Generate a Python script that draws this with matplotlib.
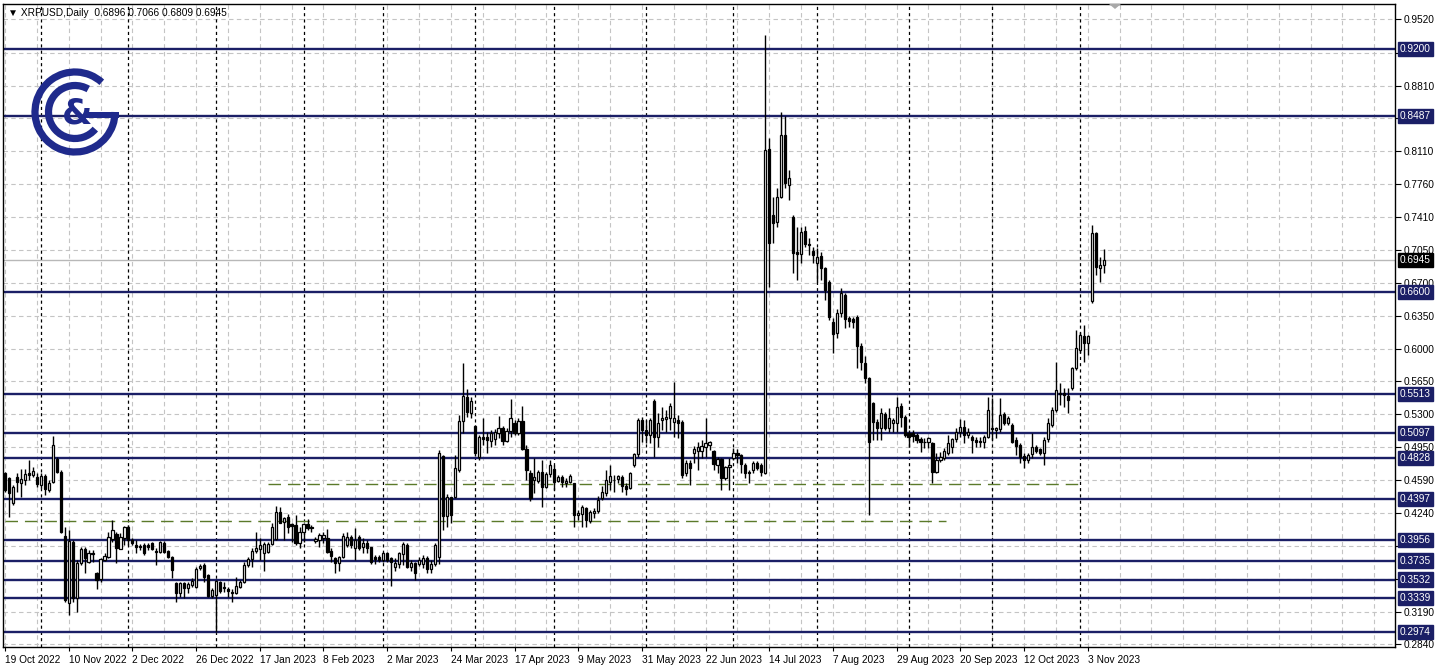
import matplotlib
matplotlib.use('Agg')
import matplotlib.pyplot as plt
from matplotlib.patches import Arc, Rectangle, Polygon
from matplotlib.transforms import blended_transform_factory
import numpy as np
import pandas as pd

plt.rcParams['font.family'] = ['Liberation Sans', 'DejaVu Sans']

# ---------------- data (XRPUSD daily, weekday bars from 19 Oct 2022) ----------------
opens = [
 .4667,.4614,.4347,.4632,.4568,.4596,.4674,.4649,.4632,.4543,.4639,.4489,.4571,.4817,.4685,.3998,.3286,.3937,.3332,.3706,
 .3856,.3724,.3820,.3599,.3535,.3742,.3777,.3969,.4019,.3863,.3973,.4098,.3955,.3898,.3891,.3898,.3902,.3927,.3841,.3831,
 .3927,.3834,.3777,.3500,.3386,.3500,.3439,.3475,.3450,.3653,.3688,.3581,.3361,.3368,.3510,.3457,.3428,.3403,.3386,.3457,
 .3510,.3688,.3748,.3841,.3855,.3819,.3830,.3908,.3962,.4257,.4151,.4197,.4126,.4115,.3919,.4044,.4126,.4090,.3948,.3955,
 .3973,.3973,.3841,.3759,.3706,.3777,.3901,.3990,.3866,.3990,.3877,.3919,.3877,.3777,.3770,.3741,.3812,.3759,.3670,.3698,
 .3805,.3901,.3663,.3706,.3698,.3700,.3760,.3640,.3700,.3770,.4852,.4211,.4411,.4418,.4702,.5229,.5486,.5315,.5172,.4845,
 .5051,.5051,.5016,.5030,.5094,.5147,.5016,.5122,.5208,.5101,.5226,.4923,.4674,.4596,.4588,.4685,.4517,.4660,.4710,.4588,
 .4631,.4560,.4578,.4560,.4222,.4233,.4293,.4161,.4240,.4268,.4401,.4455,.4579,.4590,.4604,.4625,.4533,.4508,.4757,.4875,
 .5231,.5131,.5078,.5434,.5053,.5231,.5245,.5256,.5220,.5238,.5220,.4668,.4782,.4882,.4910,.4910,.4953,.4971,.4900,.4757,
 .4818,.4615,.4732,.4828,.4882,.4864,.4757,.4686,.4697,.4775,.4757,.4668,.8129,.7427,.7356,.7623,.8278,.7748,.7409,.7035,
 .7010,.7260,.7117,.7046,.6918,.6989,.6857,.6715,.6288,.6170,.6377,.6572,.6323,.6312,.6341,.6028,.5850,.5682,.5415,.5220,
 .5148,.5302,.5148,.5202,.5209,.5387,.5273,.5102,.5095,.5077,.5031,.5006,.5006,.4988,.4686,.4810,.4828,.4888,.4953,.5031,
 .5113,.5159,.5077,.5059,.5024,.5017,.5006,.5059,.5148,.5131,.5138,.5302,.5209,.5184,.5024,.4970,.4853,.4810,.4874,.4946,
 .4924,.4881,.5031,.5184,.5344,.5529,.5522,.5493,.5575,.5789,.5985,.6134,.6056,.6511,.7238,.6857,.6896]
highs = [
 .4685,.4632,.4543,.4667,.4710,.4710,.4810,.4738,.4674,.4667,.4660,.4596,.5066,.4845,.4703,.4098,.4062,.3955,.3742,.3884,
 .3884,.3848,.3848,.3617,.3759,.3813,.4044,.4169,.4044,.4026,.4105,.4112,.3973,.3955,.3912,.3920,.3920,.3934,.3866,.3945,
 .3948,.3848,.3784,.3510,.3510,.3510,.3510,.3546,.3670,.3699,.3706,.3592,.3439,.3528,.3521,.3510,.3457,.3428,.3564,.3528,
 .3724,.3777,.3866,.4044,.3972,.3937,.3930,.4133,.4318,.4311,.4204,.4233,.4140,.4222,.4097,.4140,.4176,.4115,.3990,.4026,
 .4044,.4069,.3866,.3777,.3784,.4026,.4044,.4008,.4079,.4008,.3972,.3955,.3884,.3795,.3790,.3830,.3830,.3777,.3759,.3830,
 .3937,.3919,.3741,.3723,.3770,.3790,.3780,.3740,.3920,.4916,.4863,.4446,.4418,.4863,.5290,.5842,.5564,.5486,.5183,.5076,
 .5254,.5112,.5130,.5137,.5279,.5172,.5147,.5457,.5236,.5254,.5386,.4969,.4702,.4827,.4702,.4809,.4685,.4809,.4756,.4649,
 .4649,.4613,.4660,.4567,.4275,.4329,.4311,.4275,.4293,.4420,.4526,.4704,.4757,.4650,.4650,.4650,.4561,.4686,.4889,.5256,
 .5273,.5238,.5256,.5459,.5309,.5380,.5345,.5416,.5647,.5291,.5238,.4811,.4811,.4960,.5006,.5024,.5256,.5017,.4917,.4846,
 .4828,.4747,.4828,.4935,.4925,.4875,.4775,.4704,.4793,.4793,.4775,.9350,.8246,.7623,.7712,.8531,.8485,.7908,.7427,.7302,
 .7302,.7309,.7178,.7089,.7071,.7035,.6875,.6733,.6323,.6419,.6644,.6590,.6348,.6341,.6359,.6056,.5921,.5700,.5433,.5245,
 .5362,.5326,.5362,.5255,.5487,.5415,.5291,.5131,.5131,.5095,.5059,.5042,.5059,.5006,.4881,.4899,.4935,.5077,.5042,.5148,
 .5245,.5237,.5148,.5077,.5059,.5052,.5077,.5487,.5469,.5166,.5469,.5326,.5280,.5202,.5059,.4988,.4881,.4881,.5095,.4970,
 .4935,.5059,.5255,.5380,.5860,.5629,.5575,.5575,.5807,.6198,.6180,.6252,.6145,.7320,.7248,.6974,.7066]
lows = [
 .4471,.4204,.4329,.4471,.4418,.4543,.4596,.4632,.4525,.4507,.4436,.4471,.4560,.4667,.4026,.3297,.3154,.3297,.3190,.3688,
 .3599,.3706,.3724,.3428,.3510,.3734,.3759,.3937,.3706,.3856,.3902,.3902,.3902,.3820,.3848,.3795,.3848,.3848,.3688,.3813,
 .3813,.3759,.3546,.3297,.3350,.3332,.3386,.3457,.3439,.3635,.3510,.3343,.3332,.2966,.3386,.3403,.3350,.3297,.3379,.3439,
 .3500,.3670,.3670,.3812,.3741,.3627,.3820,.3901,.3955,.4133,.3955,.4033,.3937,.3901,.3866,.3937,.4062,.4044,.3919,.3884,
 .3919,.3812,.3723,.3599,.3627,.3759,.3884,.3866,.3741,.3848,.3812,.3812,.3699,.3699,.3715,.3723,.3723,.3464,.3620,.3652,
 .3688,.3652,.3627,.3528,.3680,.3650,.3600,.3600,.3680,.3700,.4062,.4097,.4133,.4400,.4685,.5094,.5272,.5254,.4852,.4809,
 .4969,.4888,.4952,.4969,.5041,.4969,.5005,.5051,.5076,.5076,.4916,.4596,.4375,.4453,.4560,.4311,.4507,.4631,.4489,.4578,
 .4524,.4524,.4560,.4097,.4168,.4097,.4097,.4140,.4186,.4240,.4383,.4419,.4490,.4472,.4561,.4472,.4437,.4497,.4739,.4846,
 .5006,.4989,.4989,.4846,.4953,.5131,.5113,.5131,.5060,.5042,.4615,.4633,.4544,.4775,.4704,.4828,.4846,.4917,.4704,.4668,
 .4490,.4597,.4490,.4811,.4775,.4668,.4615,.4561,.4668,.4704,.4633,.4660,.6662,.7125,.7303,.7605,.7712,.7587,.6804,.6733,
 .6911,.7089,.7000,.6911,.6715,.6733,.6519,.6305,.5949,.6110,.6341,.6216,.6234,.6216,.5789,.5771,.5629,.4223,.5024,.5024,
 .5024,.5131,.5113,.5113,.5113,.5166,.5059,.4953,.5006,.4988,.4899,.4935,.4935,.4568,.4668,.4792,.4810,.4863,.4881,.5006,
 .5059,.4988,.5042,.4888,.4953,.4953,.4935,.5042,.5024,.5042,.5113,.5184,.5184,.4988,.4864,.4775,.4721,.4775,.4828,.4881,
 .4864,.4757,.5006,.5166,.5326,.5397,.5379,.5315,.5557,.5771,.5949,.5860,.5931,.6483,.6786,.6714,.6809]
closes = [
 .4489,.4454,.4518,.4571,.4603,.4657,.4649,.4696,.4553,.4639,.4496,.4568,.4970,.4685,.4037,.3314,.3948,.3332,.3713,.3856,
 .3759,.3813,.3806,.3528,.3749,.3784,.3984,.4062,.3866,.3984,.4090,.3955,.3920,.3877,.3877,.3813,.3884,.3863,.3827,.3934,
 .3831,.3777,.3635,.3393,.3492,.3439,.3485,.3521,.3642,.3678,.3564,.3361,.3421,.3521,.3414,.3439,.3414,.3386,.3464,.3510,
 .3688,.3748,.3841,.3866,.3901,.3908,.3908,.4097,.4257,.4140,.4186,.4097,.4108,.3919,.4044,.4126,.4079,.4079,.3962,.4008,
 .4008,.3830,.3784,.3706,.3777,.3997,.3990,.3901,.3955,.3866,.3919,.3866,.3723,.3748,.3741,.3812,.3741,.3723,.3706,.3812,
 .3912,.3670,.3706,.3599,.3741,.3760,.3640,.3700,.3900,.4880,.4211,.4418,.4222,.4720,.5229,.5493,.5325,.5443,.4880,.5051,
 .5030,.5023,.5094,.5112,.5147,.5016,.5122,.5254,.5094,.5226,.4923,.4702,.4400,.4631,.4685,.4524,.4660,.4756,.4578,.4624,
 .4578,.4588,.4638,.4222,.4240,.4304,.4168,.4258,.4268,.4380,.4462,.4597,.4640,.4597,.4633,.4526,.4504,.4675,.4875,.5231,
 .5131,.5078,.5238,.5060,.5209,.5256,.5273,.5387,.5256,.5202,.4650,.4782,.4722,.4925,.4953,.4960,.4989,.4996,.4764,.4818,
 .4615,.4729,.4757,.4882,.4864,.4768,.4675,.4668,.4775,.4722,.4686,.8121,.7125,.7345,.7623,.8278,.7765,.7819,.7018,.7010,
 .7249,.7117,.7110,.7000,.6982,.6857,.6626,.6334,.6156,.6377,.6590,.6313,.6298,.6288,.6028,.5860,.5682,.5006,.5220,.5148,
 .5309,.5148,.5255,.5238,.5380,.5266,.5077,.5059,.5066,.5024,.5006,.4996,.5042,.4686,.4810,.4846,.4910,.4995,.5031,.5113,
 .5166,.5077,.5113,.5024,.4996,.4996,.5059,.5344,.5138,.5148,.5291,.5209,.5255,.5006,.4960,.4846,.4810,.4864,.4946,.4910,
 .4881,.5024,.5209,.5344,.5558,.5515,.5504,.5451,.5789,.6002,.6145,.6063,.6134,.7231,.6875,.6892,.6945]

start_date = '2022-10-19'
date_labels = ['19 Oct 2022', '10 Nov 2022', '2 Dec 2022', '26 Dec 2022', '17 Jan 2023', '8 Feb 2023',
               '2 Mar 2023', '24 Mar 2023', '17 Apr 2023', '9 May 2023', '31 May 2023', '22 Jun 2023',
               '14 Jul 2023', '7 Aug 2023', '29 Aug 2023', '20 Sep 2023', '12 Oct 2023', '3 Nov 2023']
label_step = 16

price_ticks = [0.9520, 0.9160, 0.8810, 0.8460, 0.8110, 0.7760, 0.7410, 0.7050, 0.6700, 0.6350,
               0.6000, 0.5650, 0.5300, 0.4950, 0.4590, 0.4240, 0.3890, 0.3540, 0.3190, 0.2840]
levels = [0.9200, 0.8487, 0.6600, 0.5513, 0.5097, 0.4828, 0.4397, 0.3956, 0.3735, 0.3532, 0.3339, 0.2974]
current_price = 0.6945
title_text = '\u25BC XRPUSD,Daily  0.6896 0.7066 0.6809 0.6945'

# dashed trend/support lines: (price, first bar, last bar)
green_lines = [(0.4553, 66, 269.5), (0.4157, 0, 236.5)]

n = len(opens)
assert len(highs) == n and len(lows) == n and len(closes) == n

# ---------------- figure ----------------
W, H = 1438, 671
fig = plt.figure(figsize=(W / 100, H / 100), dpi=100)
fig.patch.set_facecolor('white')
L_PX, R_PX, T_PX, B_PX = 3, 1395, 4, 647
ax = fig.add_axes([L_PX / W, 1 - B_PX / H, (R_PX - L_PX) / W, (B_PX - T_PX) / H])

NAVY = '#1b1f66'
LOGO = '#1f2a8c'
GRID = '#c4c4c4'

ax.set_xlim(-0.5, 349.2)
ax.set_ylim(0.2811, 0.9681)

# grid
for p in price_ticks:
    ax.axhline(p, color=GRID, lw=0.8, ls=(0, (4, 3)), zorder=1)
for b in range(0, 350, 8):
    ax.axvline(b, color=GRID, lw=0.8, ls=(0, (4, 3)), zorder=1)

# month separators
dates = pd.bdate_range(start_date, periods=n)
months = dates.month
for i in range(1, n):
    if months[i] != months[i - 1]:
        ax.axvline(i, color='black', lw=0.9, ls=(0, (2.5, 2.5)), zorder=1.5)

# horizontal levels
for lv in levels:
    ax.axhline(lv, color=NAVY, lw=1.7, zorder=2)
ax.axhline(current_price, color='#b8b8b8', lw=1.0, zorder=1.8)

for p, x0, x1 in green_lines:
    ax.hlines(p, x0, x1, color='#5b7a2a', lw=1.0, ls=(0, (9, 5)), zorder=2.2)

# candles
x = np.arange(n)
o = np.array(opens); h = np.array(highs); l = np.array(lows); c = np.array(closes)
up = c >= o
ax.vlines(x, l, h, color='black', lw=1.0, zorder=3)
bot = np.minimum(o, c)
hgt = np.maximum(np.abs(c - o), 0.0009)
ax.bar(x[up], hgt[up], bottom=bot[up], width=0.55, facecolor='white', edgecolor='black', lw=0.9, zorder=4)
ax.bar(x[~up], hgt[~up], bottom=bot[~up], width=0.55, facecolor='black', edgecolor='black', lw=0.9, zorder=4)

# axes styling
for s in ax.spines.values():
    s.set_color('black'); s.set_linewidth(1.0)
ax.yaxis.tick_right()
ax.set_yticks(price_ticks)
hidden = set()
for p in price_ticks:
    if any(abs(p - lv) < 0.0075 for lv in levels):
        hidden.add(p)
ax.set_yticklabels(['' if p in hidden else f'{p:.4f}' for p in price_ticks])
ax.tick_params(axis='y', length=4, pad=2, labelsize=7.3, direction='out')
ax.set_xticks([i * label_step for i in range(len(date_labels))])
ax.set_xticklabels(date_labels)
for lab in ax.get_xticklabels():
    lab.set_horizontalalignment('left')
ax.tick_params(axis='x', length=3, pad=3, labelsize=7.3, direction='out')

# right-hand boxes
tr = blended_transform_factory(ax.transAxes, ax.transData)
xoff = 1.0 + 5 / (R_PX - L_PX)
for lv in levels:
    ax.text(xoff, lv, f'{lv:.4f}', transform=tr, fontsize=7.3, color='white', va='center', ha='left',
            clip_on=False, zorder=10,
            bbox=dict(boxstyle='square,pad=0.2', fc=NAVY, ec=NAVY))
ax.text(xoff, current_price, f'{current_price:.4f}', transform=tr, fontsize=7.3, color='white', va='center',
        ha='left', clip_on=False, zorder=10, bbox=dict(boxstyle='square,pad=0.2', fc='black', ec='black'))

# title
fig.text(8 / W, 1 - 13 / H, title_text, fontsize=7.3, va='center', ha='left',
         family=['Liberation Sans', 'DejaVu Sans'])

# overlay in pixel coordinates for logo & marker
ov = fig.add_axes([0, 0, 1, 1], zorder=20)
ov.set_xlim(0, W); ov.set_ylim(H, 0); ov.axis('off'); ov.patch.set_visible(False)
cx, cy = 75, 112
ov.add_patch(Arc((cx, cy), 80, 80, theta1=0, theta2=312, lw=5.2, color=LOGO))
ov.add_patch(Arc((cx, cy), 53, 53, theta1=40, theta2=300, lw=5.2, color=LOGO))
ov.add_patch(Rectangle((86, 111.5), 33, 6, color=LOGO, lw=0))
ov.text(77, 114, '&', fontsize=25, fontweight='bold', color=LOGO, ha='center', va='center',
        family='DejaVu Sans')
ov.add_patch(Polygon([(1109, 4), (1121, 4), (1115, 9)], closed=True, color='#a8a8a8', lw=0))

fig.savefig('out.png', dpi=100, facecolor='white')
